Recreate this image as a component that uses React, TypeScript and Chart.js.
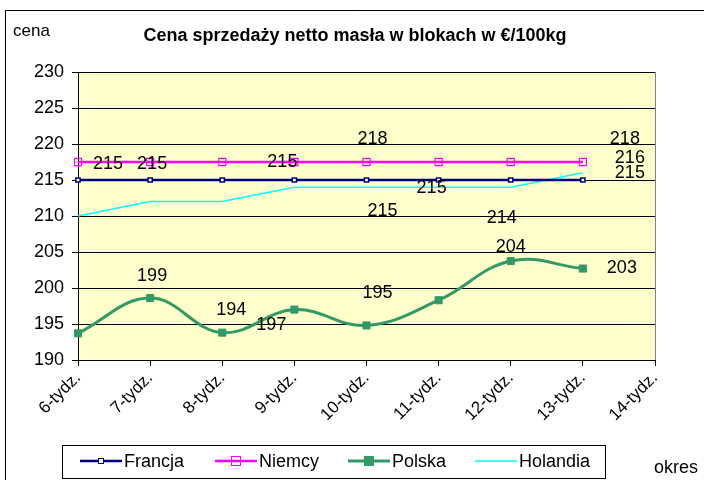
import React, { useEffect, useRef } from "react";
import { Chart, registerables } from "chart.js";

Chart.register(...registerables);

const categories = ["6-tydz.", "7-tydz.", "8-tydz.", "9-tydz.", "10-tydz.", "11-tydz.", "12-tydz.", "13-tydz.", "14-tydz."];
const francja = [215, 215, 215, 215, 215, 215, 215, 215];
const niemcy = [217.5, 217.5, 217.5, 217.5, 217.5, 217.5, 217.5, 217.5];
const polska = [193.7, 198.6, 193.8, 197.0, 194.8, 198.3, 203.75, 202.7];
const holandia = [210, 212, 212, 214, 214, 214, 214, 216];
const seriesNames = ["Francja", "Niemcy", "Polska", "Holandia"];

// data labels: [datasetIndex, pointIndex, text, dx, dy]
const dataLabels: [number, number, string, number, number][] = [
  [0, 0, "215", 30, -16],
  [0, 1, "215", 2, -16],
  [0, 3, "215", -12, -18],
  [0, 5, "215", -7, 8],
  [0, 7, "215", 47, -7],
  [1, 4, "218", 6, -23],
  [1, 7, "218", 42, -23],
  [3, 4, "215", 16, 24],
  [3, 6, "214", -9, 31],
  [3, 7, "216", 47, -15],
  [2, 1, "199", 2, -22],
  [2, 2, "194", 9, -23],
  [2, 3, "197", -23, 15],
  [2, 4, "195", 11, -32],
  [2, 6, "204", 0, -14],
  [2, 7, "203", 39, -1],
];

const FONT = "'Liberation Sans', Arial, sans-serif";

const decorPlugin = {
  id: "decor",
  beforeDraw(chart: any) {
    const { ctx, chartArea } = chart;
    ctx.save();
    ctx.fillStyle = "#ffffff";
    ctx.fillRect(0, 0, chart.width, chart.height);
    ctx.fillStyle = "#FFFFCC";
    ctx.fillRect(chartArea.left, chartArea.top, chartArea.right - chartArea.left, chartArea.bottom - chartArea.top);
    // outer border
    ctx.strokeStyle = "#000000";
    ctx.lineWidth = 1;
    ctx.beginPath();
    ctx.moveTo(5.5, chart.height);
    ctx.lineTo(5.5, 10.5);
    ctx.lineTo(chart.width, 10.5);
    ctx.stroke();
    ctx.restore();
  },
  afterDraw(chart: any) {
    const { ctx, chartArea } = chart;
    ctx.save();
    ctx.strokeStyle = "#808080";
    ctx.lineWidth = 1;
    ctx.beginPath();
    ctx.moveTo(Math.round(chartArea.right) + 0.5, chartArea.top);
    ctx.lineTo(Math.round(chartArea.right) + 0.5, chartArea.bottom);
    ctx.stroke();

    // title
    ctx.fillStyle = "#000";
    ctx.textBaseline = "middle";
    ctx.textAlign = "center";
    ctx.font = `bold 18px ${FONT}`;
    ctx.fillText("Cena sprzedaży netto masła w blokach w €/100kg", 355, 36);
    ctx.textAlign = "left";
    ctx.font = `17px ${FONT}`;
    ctx.fillText("cena", 13, 31);
    ctx.font = `18px ${FONT}`;
    ctx.fillText("okres", 654, 468);

    // data labels
    ctx.font = `18px ${FONT}`;
    ctx.textAlign = "center";
    for (const [ds, i, text, dx, dy] of dataLabels) {
      const el = chart.getDatasetMeta(ds).data[i];
      if (!el) continue;
      ctx.fillText(text, el.x + dx, el.y + dy);
    }

    // legend
    const boxL = 62, boxT = 445, boxR = 605, boxB = 478;
    ctx.fillStyle = "#ffffff";
    ctx.fillRect(boxL, boxT, boxR - boxL, boxB - boxT);
    ctx.strokeStyle = "#000";
    ctx.lineWidth = 1;
    ctx.strokeRect(boxL + 0.5, boxT + 0.5, boxR - boxL, boxB - boxT);
    const starts = [80, 215, 348, 475];
    const cy = 461;
    ctx.font = `18px ${FONT}`;
    ctx.textAlign = "left";
    chart.data.datasets.forEach((d: any, k: number) => {
      const x0 = starts[k];
      ctx.strokeStyle = d.borderColor;
      ctx.lineWidth = d.borderWidth;
      ctx.beginPath();
      ctx.moveTo(x0, cy);
      ctx.lineTo(x0 + 42, cy);
      ctx.stroke();
      if (d.pointRadius > 0) {
        const r = d.pointRadius;
        ctx.lineWidth = 1;
        ctx.fillStyle = d.pointBackgroundColor;
        ctx.fillRect(x0 + 21 - r, cy - r, 2 * r, 2 * r);
        ctx.strokeStyle = d.pointBorderColor;
        ctx.strokeRect(x0 + 21 - r + 0.5, cy - r + 0.5, 2 * r - 1, 2 * r - 1);
      }
      ctx.fillStyle = "#000";
      ctx.fillText(d.label, x0 + 44, cy + 1);
    });
    ctx.restore();
  },
};

export default function App() {
  const ref = useRef<HTMLCanvasElement>(null);
  useEffect(() => {
    document.body.style.margin = "0";
    const chart = new Chart(ref.current!, {
      type: "line",
      data: {
        labels: categories,
        datasets: [
          {
            label: seriesNames[0],
            data: francja,
            borderColor: "#000080",
            borderWidth: 2.5,
            pointStyle: "rect",
            pointRadius: 3,
            pointBackgroundColor: "#ffffff",
            pointBorderColor: "#000080",
            pointBorderWidth: 1.5,
            tension: 0,
          },
          {
            label: seriesNames[1],
            data: niemcy,
            borderColor: "#FF00FF",
            borderWidth: 2.5,
            pointStyle: "rect",
            pointRadius: 5,
            pointBackgroundColor: "rgba(255,255,255,0)",
            pointBorderColor: "#FF00FF",
            pointBorderWidth: 1.2,
            tension: 0,
          },
          {
            label: seriesNames[2],
            data: polska,
            borderColor: "#339966",
            borderWidth: 3,
            pointStyle: "rect",
            pointRadius: 5,
            pointBackgroundColor: "#339966",
            pointBorderColor: "#339966",
            pointBorderWidth: 1,
            tension: 0.4,
          },
          {
            label: seriesNames[3],
            data: holandia,
            borderColor: "#00FFFF",
            borderWidth: 1.5,
            pointRadius: 0,
            pointBackgroundColor: "#00FFFF",
            pointBorderColor: "#00FFFF",
            tension: 0,
          },
        ],
      },
      options: {
        animation: false,
        responsive: false,
        devicePixelRatio: 1,
        layout: { padding: { left: 0, right: 49, top: 72, bottom: 0 } },
        plugins: {
          legend: { display: false },
          title: { display: false },
          tooltip: { enabled: false },
        },
        scales: {
          x: {
            offset: false,
            grid: { drawOnChartArea: false, drawTicks: true, tickLength: 6, color: "#000" },
            border: { color: "#000", width: 1 },
            ticks: {
              color: "#000",
              font: { family: FONT, size: 17 },
              minRotation: 45,
              maxRotation: 45,
              autoSkip: false,
              padding: 2,
            },
            afterFit(s: any) {
              s.height = 120;
            },
          },
          y: {
            min: 190,
            max: 230,
            grid: { color: "#000", tickLength: 6, drawTicks: true },
            border: { color: "#000", width: 1 },
            ticks: {
              stepSize: 5,
              color: "#000",
              font: { family: FONT, size: 18 },
              padding: 8,
            },
            afterFit(s: any) {
              s.width = 78;
            },
          },
        },
      },
      plugins: [decorPlugin],
    });
    return () => chart.destroy();
  }, []);
  return <canvas ref={ref} width={704} height={480} style={{ display: "block" }} />;
}
